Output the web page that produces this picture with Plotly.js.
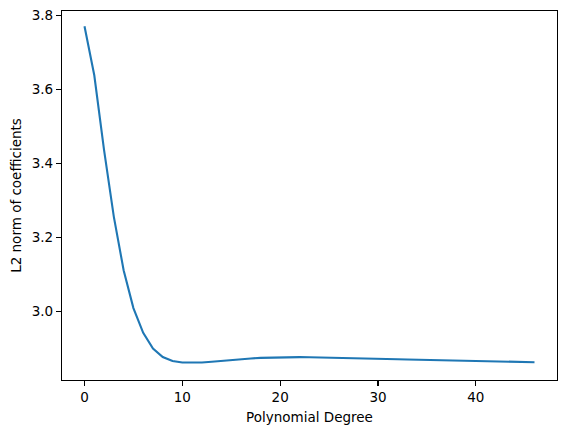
<!DOCTYPE html>
<html>
<head>
<meta charset="utf-8">
<script src="https://cdn.plot.ly/plotly-3.0.1.min.js"></script>
<style>
  html, body { margin: 0; padding: 0; background: #fff; }
  #chart { width: 567px; height: 433px; }
</style>
</head>
<body>
<div id="chart"></div>
<script>
// polynomial degree 0..46
var degrees = [];
for (var d = 0; d <= 46; d++) degrees.push(d);

// L2 norm
var l2Norm = [
  3.770, 3.638, 3.436, 3.256, 3.112, 3.010, 2.943, 2.901, 2.878, 2.867,
  2.8630, 2.8625, 2.8632, 2.8650, 2.8675, 2.8700, 2.8722, 2.8740, 2.8755, 2.8765,
  2.8772, 2.8775, 2.8776, 2.8774, 2.8770, 2.8765, 2.8760, 2.8754, 2.8748, 2.8741,
  2.8734, 2.8727, 2.8720, 2.8713, 2.8706, 2.8700, 2.8693, 2.8687, 2.8681, 2.8675,
  2.8669, 2.8663, 2.8658, 2.8653, 2.8648, 2.8643, 2.8638
];

var xTicks = [0, 10, 20, 30, 40];
var yTicks = [3.0, 3.2, 3.4, 3.6, 3.8];

var trace = {
  x: degrees,
  y: l2Norm,
  type: 'scatter',
  mode: 'lines',
  line: { color: '#1f77b4', width: 2.1 },
  hoverinfo: 'skip'
};

var axisStyle = {
  showgrid: false,
  zeroline: false,
  showline: true,
  linecolor: '#000',
  linewidth: 1.1,
  mirror: true,
  ticks: 'outside',
  ticklen: 5,
  tickwidth: 1.1,
  tickcolor: '#000',
  tickfont: { family: 'DejaVu Sans', size: 13.5, color: '#000' }
};

var layout = {
  width: 567,
  height: 433,
  margin: { l: 62, r: 10, t: 11, b: 53, pad: 0 },
  paper_bgcolor: '#fff',
  plot_bgcolor: '#fff',
  showlegend: false,
  xaxis: Object.assign({}, axisStyle, {
    range: [-2.3, 48.3],
    tickvals: xTicks,
    ticktext: xTicks.map(String),
    title: { text: 'Polynomial Degree', font: { family: 'DejaVu Sans', size: 13.5, color: '#000' }, standoff: 8 }
  }),
  yaxis: Object.assign({}, axisStyle, {
    range: [2.8159, 3.8113],
    tickvals: yTicks,
    ticktext: yTicks.map(function (v) { return v.toFixed(1); }),
    title: { text: 'L2 norm of coefficients', font: { family: 'DejaVu Sans', size: 13.5, color: '#000' }, standoff: 7 }
  })
};

Plotly.newPlot('chart', [trace], layout, { displayModeBar: false, staticPlot: true });
</script>
</body>
</html>
